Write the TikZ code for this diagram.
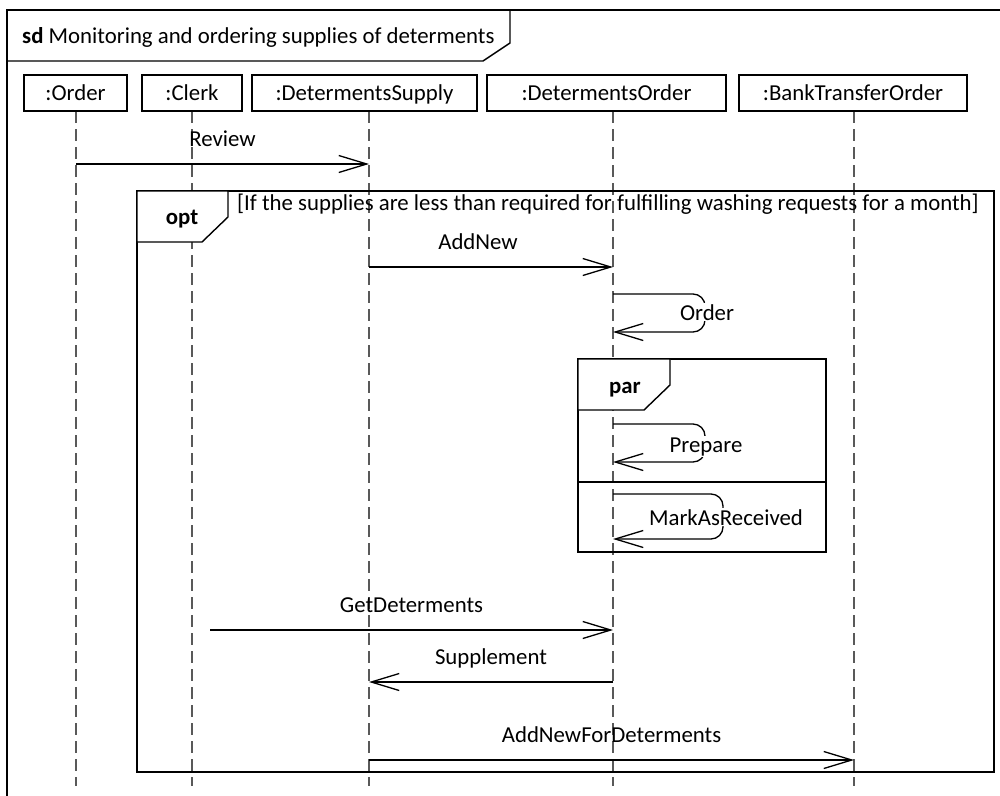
\documentclass[tikz,border=0pt]{standalone}
\usepackage{fontspec}
\setmainfont{Carlito}
\usetikzlibrary{arrows.meta}
\begin{document}
\begin{tikzpicture}[x=1pt,y=-1pt,
  every node/.style={font=\fontsize{22.8}{27}\selectfont, inner sep=0pt},
  frameline/.style={line width=1.4pt},
  head/.style={draw, fill=white, line width=1.3pt, minimum height=36pt, text height=15pt, text depth=0pt},
  lifeline/.style={draw=black!65, line width=1.3pt, dash pattern=on 12pt off 6pt},
  msg/.style={draw, line width=1.3pt, -{Straight Barb[length=28pt,width=17pt]}},
  lbl/.style={midway, anchor=base, yshift=18pt},
  selflbl/.style={anchor=base, fill=white, inner sep=1pt},
  tabtext/.style={anchor=base, font=\fontsize{22.8}{27}\selectfont\bfseries},
]
\useasboundingbox (0,0) rectangle (1000,795);
\clip (0,0) rectangle (1000,795);
\fill[white] (0,0) rectangle (1000,795);

% lifeline anchors
\coordinate (lOrder)  at (76,111);
\coordinate (lClerk)  at (192,111);
\coordinate (lSupply) at (369,111);
\coordinate (lDOrder) at (613,111);
\coordinate (lBank)   at (854,111);

% dashed lifelines
\foreach \l in {lOrder,lClerk,lSupply,lDOrder,lBank}
  \draw[lifeline] (\l) -- (\l |- 0,786);

% lifeline heads
\node[head, minimum width=103pt] (order)  at (75.5,93)  {:Order};
\node[head, minimum width=100pt] (clerk)  at (192,93)   {:Clerk};
\node[head, minimum width=225pt] (supply) at (364.5,93) {:DetermentsSupply};
\node[head, minimum width=239pt] (dorder) at (606.5,93) {:DetermentsOrder};
\node[head, minimum width=228pt] (bank)   at (853,93)   {:BankTransferOrder};

% outer sd frame and its name tab
\draw[frameline] (1010,10) -- (7,10) -- (7,810);
\draw[frameline] (7,61) -- (483,61) -- (510,43) -- (510,10);
\node[anchor=base west] (sdtitle) at (22,43) {\textbf{sd} Monitoring and ordering supplies of determents};

% opt fragment
\draw[frameline] (137,191) rectangle (994,772);
\filldraw[frameline, fill=white] (137,191) -- (228,191) -- (228,217) -- (202,242) -- (137,242) -- cycle;
\node[tabtext] (opttag) at (182,224) {opt};
\node[anchor=base west] (guard) at (237,210) {[If the supplies are less than required for fulfilling washing requests for a month]};

% par fragment
\draw[frameline] (578,359) rectangle (826,552);
\filldraw[frameline, fill=white] (578,359) -- (670,359) -- (670,385) -- (644,410) -- (578,410) -- cycle;
\draw[frameline] (578,482) -- (826,482);
\node[tabtext] (partag) at (625,393) {par};

% messages
\draw[msg] (lOrder |- 0,164) -- node[lbl] (mReview) {Review} (lSupply |- 0,164);
\draw[msg] (lSupply |- 0,267) -- node[lbl, xshift=-13pt] (mAddNew) {AddNew} (lDOrder |- 0,267);

\draw[msg, rounded corners=12pt] (lDOrder |- 0,294) -- (705,294) -- (705,332) -- (lDOrder |- 0,332);
\node[selflbl] (mOrder) at (707,320) {Order};

\draw[msg, rounded corners=12pt] (lDOrder |- 0,424) -- (705,424) -- (705,462) -- (lDOrder |- 0,462);
\node[selflbl] (mPrepare) at (706,452) {Prepare};

\draw[msg, rounded corners=12pt] (lDOrder |- 0,494) -- (723,494) -- (723,539) -- (lDOrder |- 0,539);
\node[selflbl] (mMark) at (726,525) {MarkAsReceived};

\coordinate (gdStart) at (210,630);
\draw[msg] (gdStart) -- node[lbl] (mGet) {GetDeterments} (lDOrder |- gdStart);
\draw[msg] (lDOrder |- 0,682) -- node[lbl] (mSupp) {Supplement} (lSupply |- 0,682);
\draw[msg] (lSupply |- 0,760) -- node[lbl] (mAddNewFor) {AddNewForDeterments} (lBank |- 0,760);
\end{tikzpicture}
\end{document}
